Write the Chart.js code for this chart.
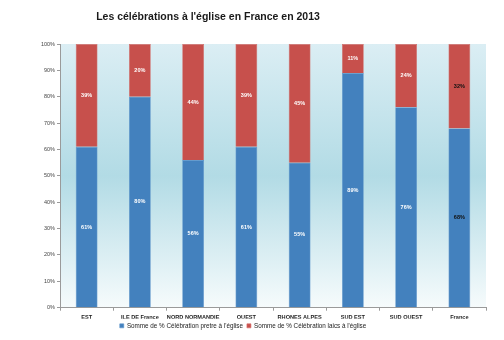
<!DOCTYPE html>
<html>
<head>
<meta charset="utf-8">
<script src="https://cdn.jsdelivr.net/npm/chart.js@4"></script>
<style>
  html, body { margin: 0; padding: 0; background: #ffffff; }
  #wrap { width: 504px; height: 340px; }
</style>
</head>
<body>
<div id="wrap"><canvas id="celebrations" width="504" height="340"></canvas></div>
<script>
// Data
const regions = ['EST', 'ILE DE France', 'NORD NORMANDIE', 'OUEST', 'RHONES ALPES', 'SUD EST', 'SUD OUEST', 'France'];
const pretre = [61, 80, 56, 61, 55, 89, 76, 68];
const laics = [39, 20, 44, 39, 45, 11, 24, 32];
const yTicks = [0, 10, 20, 30, 40, 50, 60, 70, 80, 90, 100];

const titleText = "Les célébrations à l'église en France en 2013";
const fontFamily = "'Liberation Sans', Arial, sans-serif";

// Plot background gradient
const plotBackground = {
    id: 'plotBackground',
    beforeDraw(chart) {
        const { ctx, chartArea: a } = chart;
        const g = ctx.createLinearGradient(0, a.top, 0, a.bottom);
        g.addColorStop(0, '#dbeef4');
        g.addColorStop(0.5, '#b2dbe5');
        g.addColorStop(1, '#f6fbfc');
        ctx.save();
        ctx.fillStyle = g;
        ctx.fillRect(a.left, a.top, a.right - a.left, a.bottom - a.top);
        ctx.restore();
    }
};

// Title drawn over the left part of the canvas
const chartTitle = {
    id: 'chartTitle',
    afterDraw(chart) {
        const ctx = chart.ctx;
        ctx.save();
        ctx.font = 'bold 10.5px ' + fontFamily;
        ctx.fillStyle = '#1a1a1a';
        ctx.textAlign = 'center';
        ctx.textBaseline = 'middle';
        ctx.fillText(titleText, 208, 17);
        ctx.restore();
    }
};

// Percent labels in the middle of each segment
const segmentLabels = {
    id: 'segmentLabels',
    afterDatasetsDraw(chart) {
        const ctx = chart.ctx;
        ctx.save();
        ctx.font = 'bold 5.5px ' + fontFamily;
        ctx.textAlign = 'center';
        ctx.textBaseline = 'middle';
        chart.data.datasets.forEach((ds, di) => {
            chart.getDatasetMeta(di).data.forEach((bar, i) => {
                ctx.fillStyle = i === regions.length - 1 ? '#111111' : '#ffffff';
                ctx.fillText(ds.data[i] + '%', bar.x, (bar.y + bar.base) / 2);
            });
        });
        ctx.restore();
    }
};

new Chart(document.getElementById('celebrations'), {
    type: 'bar',
    data: {
        labels: regions,
        datasets: [
            {
                label: "Somme de % Célébration pretre à l'église",
                data: pretre,
                backgroundColor: '#4381be',
                borderColor: '#5b93cb',
                borderWidth: 0.6,
                barPercentage: 0.41,
                categoryPercentage: 1
            },
            {
                label: "Somme de % Célébration laics à l'église",
                data: laics,
                backgroundColor: '#c7504c',
                borderColor: '#d56a66',
                borderWidth: 0.6,
                barPercentage: 0.41,
                categoryPercentage: 1
            }
        ]
    },
    options: {
        responsive: false,
        animation: false,
        layout: { padding: { top: 44, right: 18, left: 0, bottom: 1 } },
        plugins: {
            title: { display: false },
            tooltip: { enabled: false },
            legend: {
                position: 'bottom',
                labels: {
                    boxWidth: 4,
                    boxHeight: 4,
                    padding: 4,
                    color: '#222222',
                    font: { family: fontFamily, size: 6.3 }
                }
            }
        },
        scales: {
            x: {
                stacked: true,
                grid: {
                    offset: true,
                    drawOnChartArea: false,
                    tickLength: 3,
                    color: '#9a9a9a'
                },
                border: { color: '#9a9a9a' },
                ticks: {
                    color: '#222222',
                    padding: 3,
                    maxRotation: 0,
                    autoSkip: false,
                    font: { family: fontFamily, size: 5.6, weight: 'bold' }
                },
                afterFit(scale) { scale.height = 11; }
            },
            y: {
                stacked: true,
                min: 0,
                max: 100,
                afterBuildTicks(scale) { scale.ticks = yTicks.map(v => ({ value: v })); },
                grid: {
                    drawOnChartArea: false,
                    tickLength: 3,
                    color: '#9a9a9a'
                },
                border: { color: '#9a9a9a' },
                ticks: {
                    color: '#444444',
                    padding: 2,
                    font: { family: fontFamily, size: 5.5 },
                    callback: v => v + '%'
                },
                afterFit(scale) { scale.width = 60; }
            }
        }
    },
    plugins: [plotBackground, chartTitle, segmentLabels]
});
</script>
</body>
</html>
